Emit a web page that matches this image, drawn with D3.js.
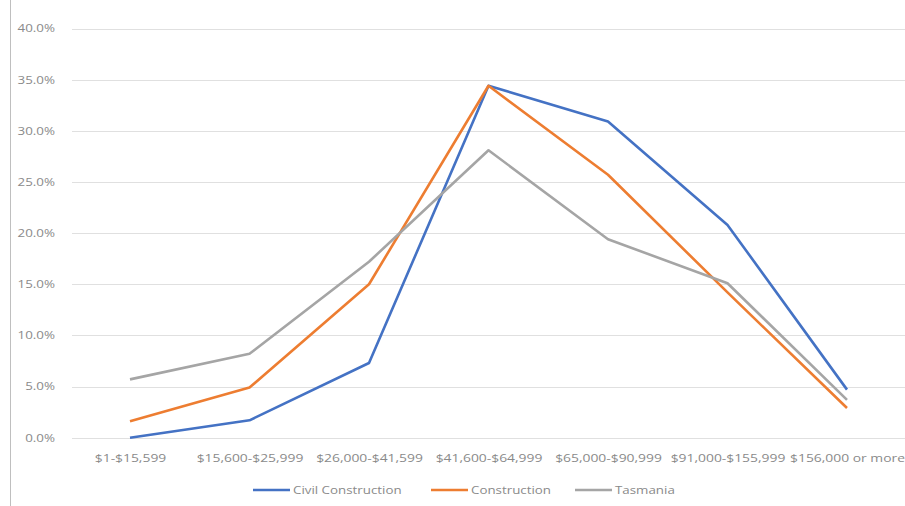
<!DOCTYPE html>
<html><head><meta charset="utf-8">
<script src="https://cdn.jsdelivr.net/npm/d3@7"></script>
<style>body{margin:0;background:#fff;} svg{display:block;}</style>
</head><body>
<svg id="chart" width="905" height="506"></svg>
<script>
const categories = ["$1-$15,599","$15,600-$25,999","$26,000-$41,599","$41,600-$64,999","$65,000-$90,999","$91,000-$155,999","$156,000 or more"];
const civilConstruction = [0.0, 1.7, 7.3, 34.4, 30.9, 20.8, 4.7];
const construction = [1.6, 4.9, 15.0, 34.4, 25.7, 14.2, 2.9];
const tasmania = [5.7, 8.2, 17.2, 28.1, 19.4, 15.1, 3.7];
const seriesNames = ["Civil Construction","Construction","Tasmania"];
const yTicks = [0,5,10,15,20,25,30,35,40];

const colors = ["#4472C4","#ED7D31","#A5A5A5"];
const svg = d3.select("#chart");
const W = 905, H = 506;
const x = d3.scalePoint().domain(categories).range([130, 847]);
const y = d3.scaleLinear().domain([0,40]).range([437.7, 28.5]);
const FONT = "'Open Sans', sans-serif";
function stretch(k){
  return sel => sel.each(function(){
    const len = this.getComputedTextLength();
    d3.select(this).attr("textLength", len*k).attr("lengthAdjust","spacingAndGlyphs");
  });
}

svg.append("line").attr("x1",10.5).attr("x2",10.5).attr("y1",0).attr("y2",H)
  .attr("stroke","#bfbfbf").attr("stroke-width",1);

const grid = svg.append("g");
grid.selectAll("line").data(yTicks).join("line")
  .attr("x1",72).attr("x2",W).attr("y1",d=>Math.round(y(d))+0.5).attr("y2",d=>Math.round(y(d))+0.5)
  .attr("stroke","#e0e0e0").attr("stroke-width",1.2);

const yAxis = d3.axisLeft(y).tickValues(yTicks).tickSize(0).tickFormat(d=>d.toFixed(1)+"%");
const ya = svg.append("g").attr("transform","translate(58,0)").call(yAxis);
ya.select(".domain").remove();
ya.selectAll("text").attr("fill","#8a8a8a").style("font-family",FONT).style("font-size","10.5px").call(stretch(1.27));

const xAxis = d3.axisBottom(x).tickSize(0).tickPadding(0);
const xa = svg.append("g").attr("transform","translate(0,455)").call(xAxis);
xa.select(".domain").remove();
xa.selectAll("text").attr("fill","#8a8a8a").style("font-family",FONT).style("font-size","10.5px").call(stretch(1.32));

const data = [civilConstruction, construction, tasmania];
const line = d3.line().x((d,i)=>x(categories[i])).y(d=>y(d));
svg.append("g").selectAll("path").data(data).join("path")
  .attr("d",line).attr("fill","none").attr("stroke",(d,i)=>colors[i])
  .attr("stroke-width",2.6).attr("stroke-linejoin","round");

const legX = [253, 431, 575];
const leg = svg.append("g").selectAll("g").data(seriesNames).join("g")
  .attr("transform",(d,i)=>`translate(${legX[i]},490)`);
leg.append("line").attr("x1",0).attr("x2",37).attr("y1",0).attr("y2",0)
  .attr("stroke",(d,i)=>colors[i]).attr("stroke-width",2.6);
leg.append("text").attr("x",40).attr("y",4).text(d=>d)
  .attr("fill","#8a8a8a").style("font-family",FONT).style("font-size","10.5px").call(stretch(1.27));
</script>
</body></html>
